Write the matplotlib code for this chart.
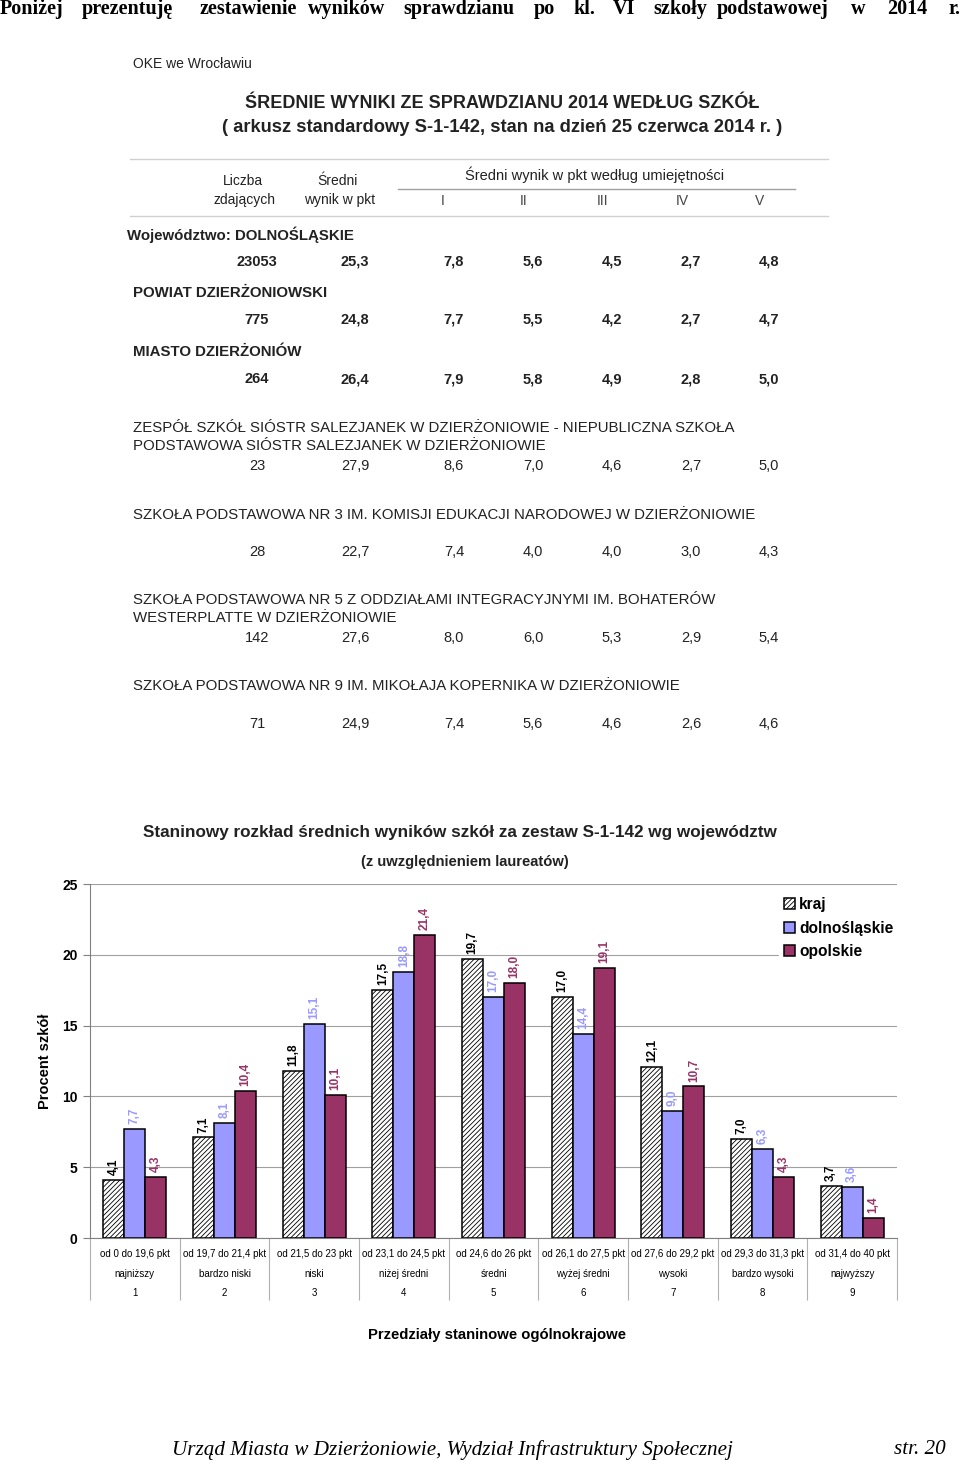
import matplotlib
matplotlib.use("Agg")
import numpy as np
from matplotlib import pyplot as plt

plt.rcParams['font.family'] = ['Liberation Sans', 'DejaVu Sans']
plt.rcParams['hatch.linewidth'] = 0.6

# ---- table data ----
row_names = ["Województwo: DOLNOŚLĄSKIE",
             "POWIAT DZIERŻONIOWSKI",
             "MIASTO DZIERŻONIÓW",
             "ZESPÓŁ SZKÓŁ SIÓSTR SALEZJANEK W DZIERŻONIOWIE - NIEPUBLICZNA SZKOŁA\nPODSTAWOWA SIÓSTR SALEZJANEK W DZIERŻONIOWIE",
             "SZKOŁA PODSTAWOWA NR 3 IM. KOMISJI EDUKACJI NARODOWEJ W DZIERŻONIOWIE",
             "SZKOŁA PODSTAWOWA NR 5 Z ODDZIAŁAMI INTEGRACYJNYMI IM. BOHATERÓW\nWESTERPLATTE W DZIERŻONIOWIE",
             "SZKOŁA PODSTAWOWA NR 9 IM. MIKOŁAJA KOPERNIKA W DZIERŻONIOWIE"]
row_counts = [23053, 775, 264, 23, 28, 142, 71]
row_avg = [25.3, 24.8, 26.4, 27.9, 22.7, 27.6, 24.9]
row_skills = [[7.8, 5.6, 4.5, 2.7, 4.8],
              [7.7, 5.5, 4.2, 2.7, 4.7],
              [7.9, 5.8, 4.9, 2.8, 5.0],
              [8.6, 7.0, 4.6, 2.7, 5.0],
              [7.4, 4.0, 4.0, 3.0, 4.3],
              [8.0, 6.0, 5.3, 2.9, 5.4],
              [7.4, 5.6, 4.6, 2.6, 4.6]]
skill_labels = ["I", "II", "III", "IV", "V"]

# ---- chart data ----
ranges = ["od 0 do 19,6 pkt", "od 19,7 do 21,4 pkt", "od 21,5 do 23 pkt",
          "od 23,1 do 24,5 pkt", "od 24,6 do 26 pkt", "od 26,1 do 27,5 pkt",
          "od 27,6 do 29,2 pkt", "od 29,3 do 31,3 pkt", "od 31,4 do 40 pkt"]
levels = ["najniższy", "bardzo niski", "niski", "niżej średni", "średni",
          "wyżej średni", "wysoki", "bardzo wysoki", "najwyższy"]
stanines = ["1", "2", "3", "4", "5", "6", "7", "8", "9"]
kraj = [4.1, 7.1, 11.8, 17.5, 19.7, 17.0, 12.1, 7.0, 3.7]
dolnoslaskie = [7.7, 8.1, 15.1, 18.8, 17.0, 14.4, 9.0, 6.3, 3.6]
opolskie = [4.3, 10.4, 10.1, 21.4, 18.0, 19.1, 10.7, 4.3, 1.4]


def pl(v):
    return f"{v:.1f}".replace(".", ",")


fig = plt.figure(figsize=(9.6, 14.65), dpi=100)

# page overlay in pixel coordinates
page = fig.add_axes([0, 0, 1, 1])
page.set_xlim(0, 960)
page.set_ylim(1465, 0)
page.axis("off")

# heading sentence, justified word by word
words = ["Poniżej", "prezentuję", "zestawienie", "wyników", "sprawdzianu", "po",
         "kl.", "VI", "szkoły", "podstawowej", "w", "2014", "r."]
word_x = [0, 82, 200, 308, 403, 534, 573, 613, 653, 717, 851, 887, 960]
for i, (w, x) in enumerate(zip(words, word_x)):
    page.text(x, 9, w, fontsize=14.5, fontweight="bold", family=["Liberation Serif"],
              va="center", ha="right" if i == len(words) - 1 else "left")

txt = "#222222"
page.text(133, 64, "OKE we Wrocławiu", fontsize=10, color=txt, va="center")
page.text(502, 103, "ŚREDNIE WYNIKI ZE SPRAWDZIANU 2014 WEDŁUG SZKÓŁ",
          fontsize=13, fontweight="bold", color=txt, ha="center", va="center")
page.text(502, 127, "( arkusz standardowy S-1-142, stan na dzień 25 czerwca 2014 r. )",
          fontsize=13.2, fontweight="bold", color=txt, ha="center", va="center")

page.plot([130, 828], [159, 159], color="#d0d0d0", lw=1)
page.plot([398, 795], [189, 189], color="#a0a0a0", lw=1)
page.plot([130, 828], [216, 216], color="#d0d0d0", lw=1)

page.text(243, 181, "Liczba", fontsize=10, color=txt, ha="center", va="center")
page.text(245, 200, "zdających", fontsize=10, color=txt, ha="center", va="center")
page.text(338, 181, "Średni", fontsize=10, color=txt, ha="center", va="center")
page.text(340, 200, "wynik w pkt", fontsize=10, color=txt, ha="center", va="center")
page.text(595, 175, "Średni wynik w pkt według umiejętności", fontsize=10.5, color=txt,
          ha="center", va="center")
col_x = [257, 355, 454, 533, 612, 691, 769]
for lab, x in zip(skill_labels, col_x[2:]):
    page.text(x - 11 if lab == "I" else x - 9, 201, lab, fontsize=10, color="#444444",
              ha="center", va="center")

name_y = [235, 293, 352, 428, 515, 600, 686]
value_y = [262, 320, 379, 466, 552, 638, 724]
for i, name in enumerate(row_names):
    bold = "bold" if i < 3 else "normal"
    nx = 127 if i == 0 else 133
    for j, line in enumerate(name.split("\n")):
        page.text(nx, name_y[i] + 18 * j, line, fontsize=10.8, fontweight=bold,
                  color=txt, va="center")
    vals = [str(row_counts[i]), pl(row_avg[i])] + [pl(v) for v in row_skills[i]]
    for v, x in zip(vals, col_x):
        page.text(x, value_y[i], v, fontsize=10.5, fontweight=bold, color=txt,
                  ha="center", va="center")

# ---- bar chart ----
ax = fig.add_axes([90 / 960, 1 - 1238 / 1465, 807 / 960, 354 / 1465])
x = np.arange(len(kraj))
w = 0.235
ax.bar(x - w, kraj, w, color="white", edgecolor="black", hatch="///////",
       linewidth=1.1, label="kraj", zorder=3)
ax.bar(x, dolnoslaskie, w, color="#9999FF", edgecolor="black", linewidth=1.1,
       label="dolnośląskie", zorder=3)
ax.bar(x + w, opolskie, w, color="#993366", edgecolor="black", linewidth=1.1,
       label="opolskie", zorder=3)

for off, vals, col in [(-w, kraj, "black"), (0, dolnoslaskie, "#9999FF"),
                       (w, opolskie, "#993366")]:
    for xi, v in zip(x, vals):
        ax.text(xi + off, v + 0.35, pl(v), rotation=90, ha="center", va="bottom",
                fontsize=8.5, fontweight="bold", color=col, zorder=4)

ax.set_xlim(-0.5, 8.5)
ax.set_ylim(0, 25)
ax.set_yticks([0, 5, 10, 15, 20, 25])
ax.yaxis.grid(True, color="#a0a0a0", lw=0.8, zorder=0)
ax.tick_params(axis="y", length=5, color="#808080", labelsize=10, pad=4)
for t in ax.get_yticklabels():
    t.set_fontweight("bold")
ax.spines["top"].set_visible(False)
ax.spines["right"].set_visible(False)
ax.spines["left"].set_color("#808080")
ax.spines["bottom"].set_color("#808080")

ax.set_xticks(x)
ax.set_xticklabels([f"{r}\n{l}\n{s}" for r, l, s in zip(ranges, levels, stanines)],
                   fontsize=7, linespacing=2.2)
ax.tick_params(axis="x", length=0, pad=8)
ax.vlines(np.arange(-0.5, 9, 1), -0.175, 0, transform=ax.get_xaxis_transform(),
          color="#b0b0b0", lw=0.8, clip_on=False)

ax.set_ylabel("Procent szkół", fontsize=10.5, fontweight="bold")
ax.yaxis.set_label_coords(-38 / 807, 0.5)
ax.set_xlabel("Przedziały staninowe ogólnokrajowe", fontsize=10.7, fontweight="bold")
ax.xaxis.set_label_coords(0.5 + 3 / 807, -90 / 354)

leg = ax.legend(loc="upper right", bbox_to_anchor=(1.012, 1.0), frameon=True,
                framealpha=1, edgecolor="white", handlelength=0.7, handleheight=0.7,
                handletextpad=0.25, labelspacing=0.55, borderpad=0.35,
                prop={"weight": "bold", "size": 11.2})
leg.set_zorder(5)

page.text(460, 832, "Staninowy rozkład średnich wyników szkół za zestaw S-1-142 wg województw",
          fontsize=12.3, fontweight="bold", color=txt, ha="center", va="center")
page.text(465, 862, "(z uwzględnieniem laureatów)", fontsize=10.6, fontweight="bold",
          color=txt, ha="center", va="center")

# footer
page.text(172, 1450, "Urząd Miasta w Dzierżoniowie, Wydział Infrastruktury Społecznej",
          fontsize=15.2, style="italic", family=["Liberation Serif"], va="center")
page.text(946, 1450, "str. 20", fontsize=15.2, style="italic", family=["Liberation Serif"],
          va="center", ha="right")

fig.savefig("out.png", dpi=100)
